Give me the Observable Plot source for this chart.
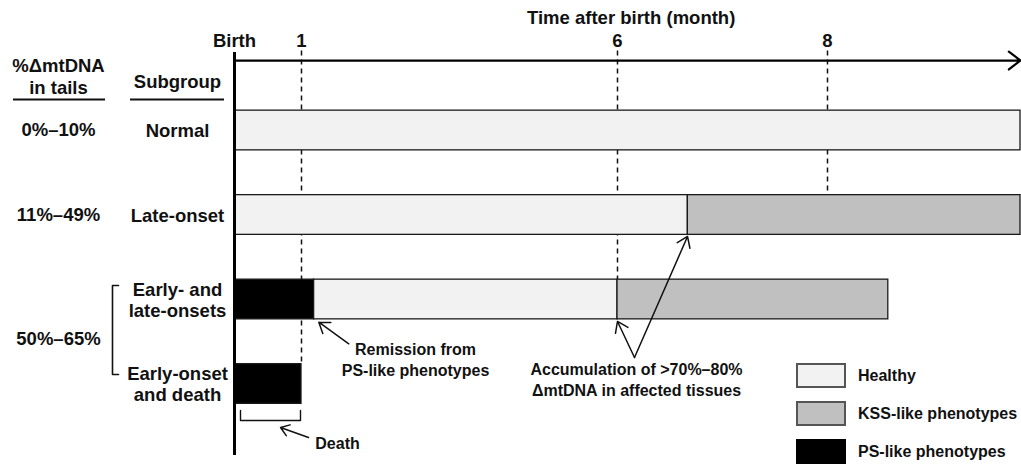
<!DOCTYPE html>
<html><head><meta charset="utf-8">
<script src="https://cdn.jsdelivr.net/npm/d3@7"></script>
<script src="https://cdn.jsdelivr.net/npm/@observablehq/plot@0.6"></script>
<style>
body{margin:0;background:#fff;font-family:"Liberation Sans",Arial,Helvetica,sans-serif;}
#wrap{position:relative;width:1021px;height:467px;}
#legend{position:absolute;left:796px;top:363px;font-weight:bold;font-size:16px;color:#111;}
.item{display:flex;align-items:center;height:25px;margin-bottom:13px;}
.sw{box-sizing:border-box;width:50px;height:25px;border:2px solid #555;margin-right:12px;}
</style></head><body><div id="wrap"><div id="legend"></div></div>
<script>
// ---- data ----
const subgroups = ["Normal", "Late-onset", "Early- and\nlate-onsets", "Early-onset\nand death"];
const subgroupRows = [1, 2, 3, 4];
const mtDNALabels = ["0%–10%", "11%–49%", "50%–65%"];
const mtDNARows = [1, 2, 3.47];
const phases = ["Healthy", "KSS-like phenotypes", "PS-like phenotypes"];
const phaseColors = ["#f2f2f2", "#c0c0c0", "#000000"];
// segments of each subgroup's timeline (months after birth)
const segRow   = [1, 2, 2, 3, 3, 3, 4];
const segStart = [0, 0, 6.67, 0, 1.2, 6, 0];
const segEnd   = [10, 6.67, 10, 1.2, 6, 8.63, 1];
const segPhase = ["Healthy", "Healthy", "KSS-like phenotypes", "PS-like phenotypes", "Healthy", "KSS-like phenotypes", "PS-like phenotypes"];
const tickMonths = [0, 1, 6, 8];
const tickLabels = ["Birth", "1", "6", "8"];
const dashedMonths = [1, 6, 8];
const dashedStopRow = [4, 3, 2];

// the time axis of the schematic is not to scale: piecewise warp of months
const warp = d3.scaleLinear().domain([0, 1, 6, 8, 10]).range([0, 67, 383, 593, 786]);

const segments = segRow.map((r, i) => ({row: r, start: segStart[i], end: segEnd[i], phase: segPhase[i]}));
const half = 0.235;
const ink = "#111";
const FF = "Liberation Sans, Arial, Helvetica, sans-serif";
const big = {fontSize: 18.5, fontWeight: "bold", fill: ink, fontFamily: FF};
const small = {fontSize: 16, fontWeight: "bold", fill: ink, fontFamily: FF};
const W = m => warp(m);
const arrowStyle = {stroke: ink, strokeWidth: 1.5, headLength: 12, headAngle: 70};

const chart = Plot.plot({
  width: 1021, height: 467,
  marginLeft: 0, marginRight: 0, marginTop: 0, marginBottom: 0,
  style: {fontFamily: FF, background: "#fff"},
  x: {domain: [W(0), W(10)], range: [234, 1020], axis: null},
  y: {domain: [1, 4], range: [130, 383.5], axis: null},
  color: {domain: phases, range: phaseColors},
  marks: [
    // dashed month guides
    Plot.ruleX(dashedMonths, {x: d => W(d), y1: 0.06, y2: (d, i) => dashedStopRow[i] - half, stroke: ink, strokeWidth: 1.5, strokeDasharray: "5,4"}),
    // timeline bars
    Plot.rect(segments, {x1: d => W(d.start), x2: d => W(d.end), y1: d => d.row - half, y2: d => d.row + half, fill: "phase", stroke: "#1a1a1a", strokeWidth: 1.3}),
    // axes
    Plot.ruleX([0], {x: W(0), y1: 0.077, y2: 4.846, stroke: "#000", strokeWidth: 3}),
    Plot.arrow([0], {x1: W(0), x2: W(10), y1: 0.172, y2: 0.172, stroke: "#000", strokeWidth: 2.2, headLength: 10, headAngle: 75}),
    Plot.text(tickMonths, {x: d => W(d), y: -0.053, text: (d, i) => tickLabels[i], ...big}),
    Plot.text(["Time after birth (month)"], {x: W(6.13), y: -0.33, text: d => d, ...big}),
    // left headers
    Plot.text(["%ΔmtDNA\nin tails"], {frameAnchor: "left", dx: 58, y: 0.355, text: d => d, textAnchor: "middle", lineHeight: 1.17, ...big}),
    Plot.text(["Subgroup"], {frameAnchor: "left", dx: 177, y: 0.432, text: d => d, textAnchor: "middle", ...big}),
    Plot.ruleY([0.633], {y: d => d, x1: W(-3.299), x2: W(-1.925), stroke: ink, strokeWidth: 2}),
    Plot.ruleY([0.633], {y: d => d, x1: W(-1.552), x2: W(-0.149), stroke: ink, strokeWidth: 2}),
    Plot.text(mtDNALabels, {frameAnchor: "left", dx: 58, y: (d, i) => mtDNARows[i], text: d => d, textAnchor: "middle", ...big}),
    Plot.text(subgroups, {frameAnchor: "left", dx: 177, y: (d, i) => subgroupRows[i], text: d => d, textAnchor: "middle", lineHeight: 1.15, ...big}),
    // bracket joining the two 50%–65% subgroups
    Plot.line([[-1.731, 2.834], [-1.821, 2.834], [-1.821, 3.888], [-1.731, 3.888]], {x: d => W(d[0]), y: d => d[1], stroke: ink, strokeWidth: 1.6}),
    // death bracket + arrow
    Plot.line([[0.0896, 4.314], [0.0896, 4.432], [0.985, 4.432], [0.985, 4.314]], {x: d => W(d[0]), y: d => d[1], stroke: ink, strokeWidth: 1.4}),
    Plot.arrow([0], {x1: W(1.111), y1: 4.633, x2: W(0.687), y2: 4.515, ...arrowStyle}),
    Plot.text(["Death"], {x: W(1.57), y: 4.704, text: d => d, ...small}),
    // remission
    Plot.arrow([0], {x1: W(1.748), y1: 3.524, x2: W(1.274), y2: 3.269, ...arrowStyle}),
    Plot.text(["Remission from\nPS-like phenotypes"], {x: W(2.804), y: 3.698, text: d => d, lineHeight: 1.3, ...small}),
    // accumulation
    Plot.arrow([0], {x1: W(6.162), y1: 3.686, x2: W(6), y2: 3.26, ...arrowStyle}),
    Plot.arrow([0], {x1: W(6.162), y1: 3.686, x2: W(6.667), y2: 2.254, ...arrowStyle}),
    Plot.text(["Accumulation of >70%–80%\nΔmtDNA in affected tissues"], {x: W(6.181), y: 3.941, text: d => d, lineHeight: 1.3, ...small})
  ]
});
document.getElementById("wrap").prepend(chart);

// legend
const legend = document.getElementById("legend");
phases.forEach((p, i) => {
  const item = document.createElement("div");
  item.className = "item";
  const sw = document.createElement("div");
  sw.className = "sw";
  sw.style.background = phaseColors[i];
  if (i === 2) sw.style.borderColor = "#000";
  const t = document.createElement("span");
  t.textContent = p;
  item.append(sw, t);
  legend.append(item);
});
</script>
</body></html>
